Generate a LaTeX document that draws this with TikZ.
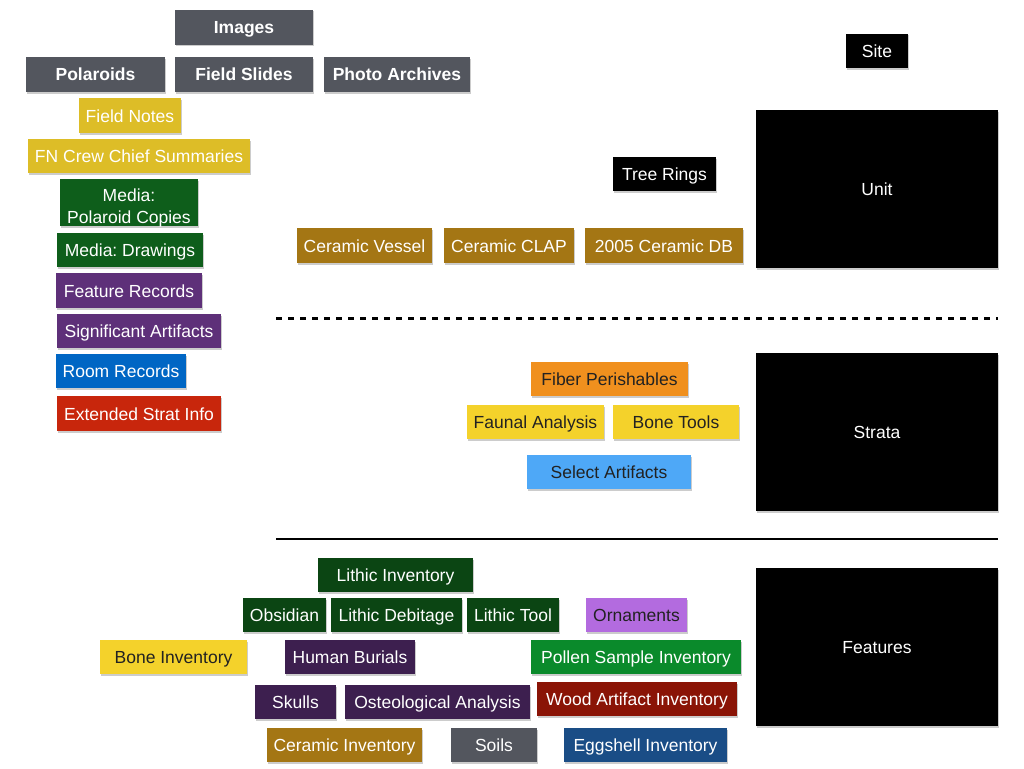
\documentclass[tikz,border=0pt]{standalone}
\usepackage{fontspec}
\setmainfont{Liberation Sans}
\frenchspacing
\usetikzlibrary{shadows}
\definecolor{cgray}{HTML}{53565E}
\definecolor{cgold}{HTML}{DDBD27}
\definecolor{cgreen}{HTML}{0E5E1B}
\definecolor{cdgreen}{HTML}{0B4513}
\definecolor{cpurple}{HTML}{5E3079}
\definecolor{cdpurple}{HTML}{3D1F4F}
\definecolor{cblue}{HTML}{0066C4}
\definecolor{cred}{HTML}{C8260C}
\definecolor{cbrown}{HTML}{A47614}
\definecolor{corange}{HTML}{F0901E}
\definecolor{cyellow}{HTML}{F4D22B}
\definecolor{clblue}{HTML}{4EA8F7}
\definecolor{clpurple}{HTML}{B36BDF}
\definecolor{cpgreen}{HTML}{0A8A2B}
\definecolor{cdred}{HTML}{8A1406}
\definecolor{cnavy}{HTML}{1A4D86}
\definecolor{cdtext}{HTML}{222222}
\newcommand\bx[7]{%
  \node[box,#6,minimum width={(#4-#2)*1pt},minimum height={(#5-#3)*1pt}]
    (#1) at ({(#2+#4)/2},{(#3+#5)/2}) {#7};}
\begin{document}
\begin{tikzpicture}[x=1pt,y=-1pt,
  box/.style={rectangle,inner sep=0pt,text=white,text height=13pt,text depth=0pt,
    font=\fontsize{17.5}{20}\selectfont,
    drop shadow={shadow xshift=1pt,shadow yshift=-1.5pt,fill=black!40,opacity=0.5}},
  boldbox/.style={fill=cgray,font=\fontsize{17.5}{20}\selectfont\bfseries},
  dark/.style={text=cdtext},
  sepline/.style={line width=2.5pt,black}]
\useasboundingbox (0,0) rectangle (1024,768);
% images
\bx{images}{175}{10}{313}{45}{boldbox}{Images}
\bx{polaroids}{26}{57}{165}{92}{boldbox}{Polaroids}
\bx{slides}{175}{57}{313}{92}{boldbox}{Field Slides}
\bx{archives}{324}{57}{470}{92}{boldbox}{Photo Archives}
% left column
\bx{notes}{79}{98}{181}{133}{fill=cgold}{Field Notes}
\bx{crew}{28}{139}{250}{173}{fill=cgold}{FN Crew Chief Summaries}
\bx{mediapol}{60}{179}{198}{226}{fill=cgreen}{}
\node[text=white,font=\fontsize{17.5}{22}\selectfont,align=center,anchor=north] (mediapoltext) at (129,185) {Media:\\Polaroid Copies};
\bx{mediadraw}{57}{233}{203}{267}{fill=cgreen}{Media: Drawings}
\bx{featrec}{56}{273}{202}{308}{fill=cpurple}{Feature Records}
\bx{sigart}{57}{314}{221}{348}{fill=cpurple}{Significant Artifacts}
\bx{roomrec}{56}{354}{186}{388}{fill=cblue}{Room Records}
\bx{strat}{57}{396}{221}{431}{fill=cred}{Extended Strat Info}
% unit level
\bx{site}{846}{34}{908}{68}{fill=black}{Site}
\bx{tree}{613}{157}{716}{191}{fill=black}{Tree Rings}
\bx{vessel}{297}{228}{432}{263}{fill=cbrown}{Ceramic Vessel}
\bx{clap}{444}{228}{574}{263}{fill=cbrown}{Ceramic CLAP}
\bx{cdb}{585}{228}{743}{263}{fill=cbrown}{2005 Ceramic DB}
\bx{unit}{756}{110}{998}{268}{fill=black}{Unit}
\coordinate (d1) at (276,318);
\coordinate (d2) at (998,318);
\draw[line width=3pt,dash pattern=on 6pt off 6pt] (d1) -- (d2);
% strata level
\bx{fiber}{531}{362}{688}{396}{fill=corange,dark}{Fiber Perishables}
\bx{faunal}{467}{405}{604}{439}{fill=cyellow,dark}{Faunal Analysis}
\bx{bonetools}{613}{405}{739}{439}{fill=cyellow,dark}{Bone Tools}
\bx{select}{527}{455}{691}{489}{fill=clblue,dark}{Select Artifacts}
\bx{strata}{756}{353}{998}{511}{fill=black}{Strata}
\coordinate (s1) at (276,539);
\coordinate (s2) at (998,539);
\draw[sepline] (s1) -- (s2);
% features level
\bx{lithinv}{318}{558}{473}{592}{fill=cdgreen}{Lithic Inventory}
\bx{obsidian}{243}{598}{326}{632}{fill=cdgreen}{Obsidian}
\bx{debitage}{331}{598}{462}{632}{fill=cdgreen}{Lithic Debitage}
\bx{lithtool}{467}{598}{559}{632}{fill=cdgreen}{Lithic Tool}
\bx{ornaments}{586}{598}{687}{632}{fill=clpurple,dark}{Ornaments}
\bx{boneinv}{100}{640}{247}{674}{fill=cyellow,dark}{Bone Inventory}
\bx{burials}{285}{640}{415}{674}{fill=cdpurple}{Human Burials}
\bx{pollen}{531}{640}{741}{674}{fill=cpgreen}{Pollen Sample Inventory}
\bx{skulls}{255}{685}{336}{719}{fill=cdpurple}{Skulls}
\bx{osteo}{345}{685}{530}{719}{fill=cdpurple}{Osteological Analysis}
\bx{wood}{537}{682}{737}{716}{fill=cdred}{Wood Artifact Inventory}
\bx{ceramicinv}{267}{728}{422}{762}{fill=cbrown}{Ceramic Inventory}
\bx{soils}{451}{728}{537}{762}{fill=cgray}{Soils}
\bx{eggshell}{564}{728}{727}{762}{fill=cnavy}{Eggshell Inventory}
\bx{features}{756}{568}{998}{726}{fill=black}{Features}
\end{tikzpicture}
\end{document}
